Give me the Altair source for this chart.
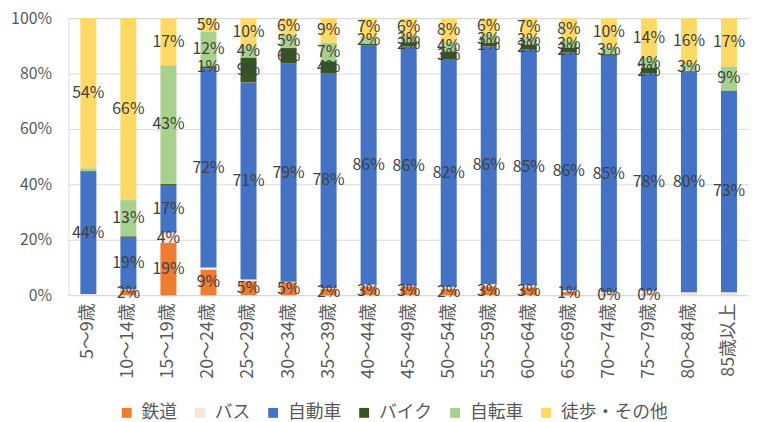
import altair as alt
import pandas as pd

ages = ["5～9歳", "10～14歳", "15～19歳", "20～24歳", "25～29歳", "30～34歳",
        "35～39歳", "40～44歳", "45～49歳", "50～54歳", "55～59歳", "60～64歳",
        "65～69歳", "70～74歳", "75～79歳", "80～84歳", "85歳以上"]

series = ["鉄道", "バス", "自動車", "バイク", "自転車", "徒歩・その他"]
colors = ["#ED7D31", "#FBE5D6", "#4472C4", "#375623", "#A9D18E", "#FFD966"]

rail    = [0.0, 1.8, 18.8, 9.2, 5.0, 4.6, 2.4, 3.2, 3.2, 2.2, 3.2, 2.8, 1.2, 0.3, 0.3, 0.0, 0.0]
bus     = [0.4, 0.3, 3.8, 0.8, 0.6, 0.2, 0.2, 0.6, 0.3, 0.8, 0.8, 0.8, 0.6, 0.8, 1.3, 1.0, 1.0]
car     = [44.3, 19.0, 17.2, 71.8, 71.2, 78.8, 77.6, 86.3, 86.2, 82.0, 85.8, 85.0, 85.8, 85.3, 78.4, 79.8, 72.8]
bike    = [0.1, 0.2, 0.4, 0.8, 9.0, 5.6, 4.2, 0.7, 1.6, 3.0, 1.2, 1.9, 1.8, 0.6, 2.0, 0.2, 0.1]
bicycle = [1.0, 13.0, 42.8, 12.4, 4.4, 4.8, 6.8, 2.4, 2.6, 3.6, 3.2, 2.9, 2.6, 2.8, 3.8, 2.8, 8.7]
walk    = [54.2, 65.7, 17.0, 5.0, 9.8, 6.0, 8.8, 6.8, 6.1, 8.4, 5.8, 6.6, 8.0, 10.2, 14.2, 16.2, 17.4]

# which data labels are displayed (1 = shown)
show_rail    = [0, 1, 1, 1, 1, 1, 1, 1, 1, 1, 1, 1, 1, 1, 1, 0, 0]
show_bus     = [0, 0, 1, 0, 0, 0, 0, 0, 0, 0, 0, 0, 0, 0, 0, 0, 0]
show_car     = [1] * 17
show_bike    = [0, 0, 0, 1, 1, 1, 1, 0, 1, 1, 1, 1, 1, 0, 1, 0, 0]
show_bicycle = [0, 1, 1, 1, 1, 1, 1, 1, 1, 1, 1, 1, 1, 1, 1, 1, 1]
show_walk    = [1] * 17

values = [rail, bus, car, bike, bicycle, walk]
shows = [show_rail, show_bus, show_car, show_bike, show_bicycle, show_walk]

rows = []
for si, name in enumerate(series):
    for ai, age in enumerate(ages):
        v = values[si][ai]
        rows.append({
            "age": age, "series": name, "order": si, "value": v,
            "label": f"{int(v + 0.5)}%" if shows[si][ai] else "",
        })
df = pd.DataFrame(rows)

FONT = "Noto Sans CJK JP"

base = alt.Chart(df).transform_stack(
    stack="value", groupby=["age"], offset="normalize",
    sort=[alt.SortField("order", order="ascending")], as_=["y0", "y1"]
).transform_calculate(mid="(datum.y0 + datum.y1) / 2")

xenc = alt.X(
    "age:N", sort=ages, title=None,
    scale=alt.Scale(paddingInner=0.6, paddingOuter=0.3),
    axis=alt.Axis(labelAngle=-90, labelFontSize=18, labelColor="#595959", labelFont=FONT,
                  ticks=False, labelPadding=8, domainColor="#D9D9D9", domainWidth=1),
)

bars = base.mark_bar().encode(
    x=xenc,
    y=alt.Y("y0:Q", scale=alt.Scale(domain=[0, 1]), title=None,
            axis=alt.Axis(format=".0%", values=[i / 10 for i in range(11)], labelFontSize=16,
                          labelColor="#595959", labelFont=FONT, ticks=False, domain=False,
                          labelPadding=17, gridColor="#D9D9D9", gridWidth=1)),
    y2="y1:Q",
    color=alt.Color("series:N", scale=alt.Scale(domain=series, range=colors),
                    legend=alt.Legend(title=None, orient="none", legendX=50, legendY=390,
                                      direction="horizontal", symbolType="square",
                                      symbolSize=100, symbolStrokeWidth=0, labelFontSize=18,
                                      labelColor="#595959", labelFont=FONT, columnPadding=14,
                                      labelOffset=6, padding=0)),
)

texts = base.transform_filter("datum.label != ''").mark_text(
    fontSize=16, color="#404040", font=FONT, baseline="middle"
).encode(
    x=alt.X("age:N", sort=ages),
    y=alt.Y("mid:Q", scale=alt.Scale(domain=[0, 1])),
    text="label:N",
)

chart = alt.layer(bars, texts).properties(
    width=688, height=280,
    autosize=alt.AutoSizeParams(type="none"),
    padding={"left": 61, "top": 8, "right": 0, "bottom": 125},
).configure_view(stroke=None).configure(background="white")

chart.save("out.html", embed_options={"renderer": "svg", "actions": False})
